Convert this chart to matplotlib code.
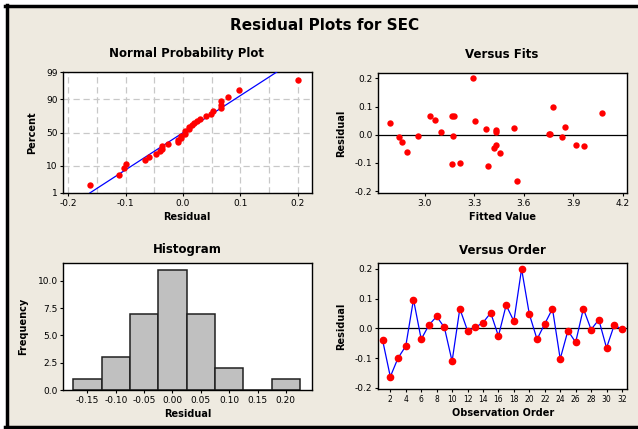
from statistics import NormalDist
import numpy as np
import matplotlib
matplotlib.use('Agg')
import matplotlib.pyplot as plt
from matplotlib.lines import Line2D
from matplotlib.patches import Rectangle

# residuals in observation order (read from "Versus Order")
resid = [-0.040, -0.163, -0.100, -0.060, 0.097, -0.037, 0.011, 0.040,
         0.003, -0.111, 0.066, -0.008, 0.003, 0.019, 0.052, -0.026,
         0.078, 0.024, 0.200, 0.048, -0.037, 0.015, 0.066, -0.103,
         -0.008, -0.047, 0.066, -0.004, 0.029, -0.066, 0.011, -0.003]
# fitted values for the same observations (read from "Versus Fits")
fits = [3.967, 3.557, 3.212, 2.890, 3.778, 3.429, 3.098, 2.790,
        3.751, 3.382, 3.031, 2.843, 3.759, 3.373, 3.063, 2.863,
        4.073, 3.543, 3.292, 3.306, 3.918, 3.429, 3.165, 3.165,
        3.833, 3.422, 3.180, 2.957, 3.847, 3.455, 3.430, 3.173]
order = list(range(1, 33))

prob_ticks = [1, 10, 50, 90, 99]
hist_centers = [-0.15, -0.10, -0.05, 0.00, 0.05, 0.10, 0.15, 0.20]

plt.rcParams['axes.unicode_minus'] = False
plt.rcParams['font.family'] = 'DejaVu Sans'

W, H = 638, 429
bg = '#eeeae0'
fig = plt.figure(figsize=(W / 100, H / 100), dpi=100, facecolor='white')

# beige panel + black frame
fig.add_artist(Rectangle((6.5 / W, 1 - 426.5 / H), 1, (426.5 - 6) / H,
                         transform=fig.transFigure, facecolor=bg, edgecolor='none', zorder=0))
fig.add_artist(Line2D([6.5 / W, 6.5 / W], [1 - 5 / H, 1 - 428 / H], color='black', lw=2.5))
fig.add_artist(Line2D([5 / W, 1], [1 - 6 / H, 1 - 6 / H], color='black', lw=2.5))
fig.add_artist(Line2D([5 / W, 1], [1 - 426.5 / H, 1 - 426.5 / H], color='black', lw=2.5))


def box(l, r, t, b):
    ax = fig.add_axes([l / W, 1 - b / H, (r - l) / W, (b - t) / H])
    ax.set_facecolor('white')
    for s in ax.spines.values():
        s.set_linewidth(1)
    ax.tick_params(labelsize=6.5, length=2.5, width=0.8, pad=1.5)
    return ax


def title(x, y, s, size=8.5):
    fig.text(x / W, 1 - y / H, s, ha='center', va='center', fontsize=size, fontweight='bold')


title(325, 26, 'Residual Plots for SEC', 11)

# Normal probability plot
ax1 = box(63, 311.5, 72, 193)
nd = NormalDist()
r_sorted = np.sort(resid)
n = len(resid)
z = [nd.inv_cdf((i - 0.3) / (n + 0.4)) for i in range(1, n + 1)]
mu, sd = np.mean(resid), np.std(resid, ddof=1)
zl = nd.inv_cdf(0.99)
ax1.plot([mu - zl * sd, mu + zl * sd], [-zl, zl], color='#0000ff', lw=0.9, zorder=3)
ax1.scatter(r_sorted, z, s=21, color='red', zorder=4, linewidths=0)
ax1.set_xlim(-0.2093, 0.224)
ax1.set_ylim(-zl, zl)
ax1.set_xticks([-0.2, -0.1, 0.0, 0.1, 0.2])
ax1.set_xticklabels(['-0.2', '-0.1', '0.0', '0.1', '0.2'])
ax1.set_xticks(np.arange(-0.2, 0.21, 0.05), minor=True)
ax1.tick_params(which='minor', length=0)
ax1.set_yticks([nd.inv_cdf(p / 100) for p in prob_ticks])
ax1.set_yticklabels([str(p) for p in prob_ticks])
ax1.grid(True, which='both', axis='x', ls=(0, (5, 3)), color='#c8c8c8', lw=0.9)
ax1.grid(True, which='major', axis='y', ls=(0, (5, 3)), color='#c8c8c8', lw=0.9)
ax1.set_axisbelow(True)
ax1.set_xlabel('Residual', fontsize=7, fontweight='bold', labelpad=3)
ax1.set_ylabel('Percent', fontsize=7, fontweight='bold', labelpad=6.5)
title(187, 54, 'Normal Probability Plot')

# Versus fits
ax2 = box(378, 627.3, 72.7, 193.3)
ax2.axhline(0, color='black', lw=0.9)
ax2.scatter(fits, resid, s=21, color='red', zorder=4, linewidths=0)
ax2.set_xlim(2.7175, 4.226)
ax2.set_ylim(-0.208, 0.22)
ax2.set_xticks([3.0, 3.3, 3.6, 3.9, 4.2])
ax2.set_xticklabels(['3.0', '3.3', '3.6', '3.9', '4.2'])
ax2.set_yticks([-0.2, -0.1, 0.0, 0.1, 0.2])
ax2.set_yticklabels(['-0.2', '-0.1', '0.0', '0.1', '0.2'])
ax2.set_xlabel('Fitted Value', fontsize=7, fontweight='bold', labelpad=3)
ax2.set_ylabel('Residual', fontsize=7, fontweight='bold', labelpad=6.5)
title(502, 54, 'Versus Fits')

# Histogram
ax3 = box(63.3, 311.7, 262.7, 390)
edges = np.append(np.array(hist_centers) - 0.025, hist_centers[-1] + 0.025)
ax3.hist(resid, bins=edges, color='#c0c0c0', edgecolor='#202020', lw=1.1)
ax3.set_xlim(-0.1926, 0.2456)
ax3.set_ylim(0, 11.65)
ax3.set_xticks(hist_centers)
ax3.set_xticklabels(['%.2f' % c for c in hist_centers])
ax3.set_yticks([0, 2.5, 5, 7.5, 10])
ax3.set_yticklabels(['0.0', '2.5', '5.0', '7.5', '10.0'])
ax3.set_xlabel('Residual', fontsize=7, fontweight='bold', labelpad=3.5)
ax3.set_ylabel('Frequency', fontsize=7, fontweight='bold', labelpad=7)
title(187, 250, 'Histogram')

# Versus order
ax4 = box(378, 627.3, 262.7, 389.3)
ax4.axhline(0, color='black', lw=0.9)
ax4.plot(order, resid, color='#0000ff', lw=0.9, marker='o', ms=4.5,
         mfc='red', mec='red', zorder=4)
ax4.set_xlim(0.405, 32.69)
ax4.set_ylim(-0.2054, 0.221)
ax4.set_xticks(range(2, 33, 2))
ax4.tick_params(axis='x', labelsize=5.5)
ax4.set_yticks([-0.2, -0.1, 0.0, 0.1, 0.2])
ax4.set_yticklabels(['-0.2', '-0.1', '0.0', '0.1', '0.2'])
ax4.set_xlabel('Observation Order', fontsize=7, fontweight='bold', labelpad=3)
ax4.set_ylabel('Residual', fontsize=7, fontweight='bold', labelpad=6.5)
title(502, 250, 'Versus Order')

fig.savefig('out.png', dpi=100, facecolor='white')
